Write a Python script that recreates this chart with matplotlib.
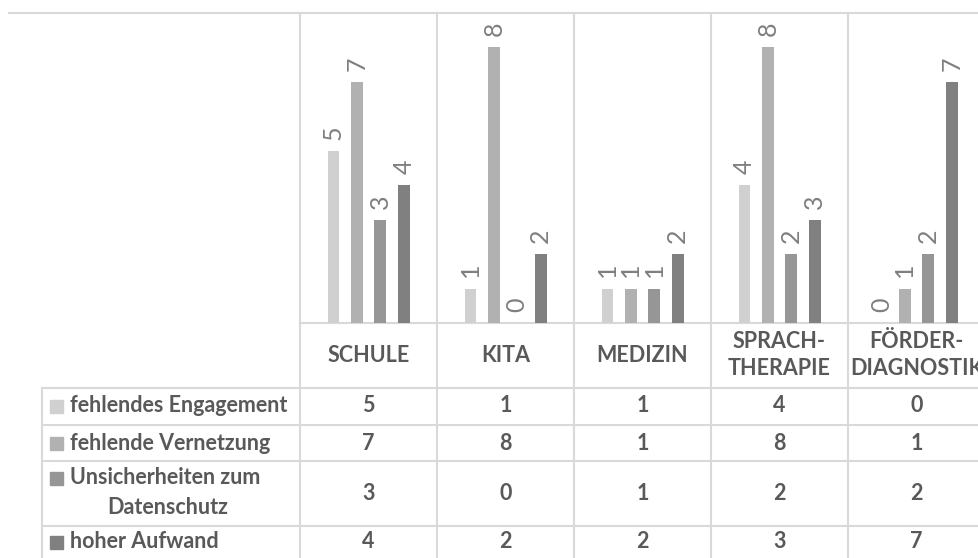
import numpy as np
import matplotlib.pyplot as plt
from matplotlib.patches import Rectangle

# data
categories = ["SCHULE", "KITA", "MEDIZIN", "SPRACH-\nTHERAPIE", "FÖRDER-\nDIAGNOSTIK"]
series_names = ["fehlendes Engagement", "fehlende Vernetzung",
                "Unsicherheiten zum\nDatenschutz", "hoher Aufwand"]
engagement = [5, 1, 1, 4, 0]
vernetzung = [7, 8, 1, 8, 1]
datenschutz = [3, 0, 1, 2, 2]
aufwand = [4, 2, 2, 3, 7]
values = [engagement, vernetzung, datenschutz, aufwand]

colors = ["#d0d0d0", "#b1b1b1", "#969696", "#808080"]
grid_c = "#d9d9d9"
text_c = "#595959"
font = "Lato"
fs = 15.5

W, H = 979, 558
fig = plt.figure(figsize=(W / 100, H / 100), dpi=100)

# background axes in pixel coordinates for the table grid
bg = fig.add_axes([0, 0, 1, 1])
bg.set_xlim(0, W)
bg.set_ylim(H, 0)
bg.axis("off")

col_left, col_w = 300, 137
base_y, top_y = 323, 13
row_lines = [388, 425, 461, 526]
row_centers = [406, 443, 493, 542]

# bar axes
ax = fig.add_axes([col_left / W, (H - base_y) / H,
                   col_w * len(categories) / W, (base_y - top_y) / H])
ax.set_xlim(-0.5, len(categories) - 0.5)
ax.set_ylim(0, 9)
ax.axis("off")
ax.patch.set_alpha(0)

x = np.arange(len(categories))
offsets = [-0.256, -0.085, 0.085, 0.258]
for vals, off, c in zip(values, offsets, colors):
    ax.bar(x + off, vals, width=0.085, color=c, zorder=3)
    for xi, v in zip(x, vals):
        ax.annotate(str(v), (xi + off, v), xytext=(0, 8), textcoords="offset points",
                    rotation=90, ha="center", va="bottom", color="#7f7f7f",
                    fontsize=18, family=font)

# grid lines
lw = 1.5
bg.plot([9, W], [top_y, top_y], color=grid_c, lw=lw)
bg.plot([col_left, W], [base_y, base_y], color=grid_c, lw=lw)
for i in range(len(categories) + 1):
    xl = col_left + i * col_w
    bg.plot([xl, xl], [top_y, H], color=grid_c, lw=lw)
for yl in row_lines:
    bg.plot([42, W], [yl, yl], color=grid_c, lw=lw)
bg.plot([42, 42], [row_lines[0], H], color=grid_c, lw=lw)

# category header
for i, cat in enumerate(categories):
    bg.text(col_left + (i + 0.5) * col_w, 355, cat, ha="center", va="center",
            color=text_c, fontsize=fs, fontweight="bold", family=font,
            linespacing=1.3)

# table rows
for r, (name, vals, c) in enumerate(zip(series_names, values, colors)):
    yc = row_centers[r]
    lines = name.split("\n")
    if len(lines) == 1:
        bg.add_patch(Rectangle((50, yc - 6.5), 13, 13, color=c))
        bg.text(70, yc, name, ha="left", va="center", color=text_c,
                fontsize=fs, fontweight="bold", family=font)
    else:
        bg.add_patch(Rectangle((50, 478 - 6.5), 13, 13, color=c))
        bg.text(70, 478, lines[0], ha="left", va="center", color=text_c,
                fontsize=fs, fontweight="bold", family=font)
        bg.text(168, 507, lines[1], ha="center", va="center", color=text_c,
                fontsize=fs, fontweight="bold", family=font)
    for i, v in enumerate(vals):
        bg.text(col_left + (i + 0.5) * col_w, yc, str(v), ha="center", va="center",
                color=text_c, fontsize=fs, fontweight="bold", family=font)

fig.savefig("out.png", dpi=100)
